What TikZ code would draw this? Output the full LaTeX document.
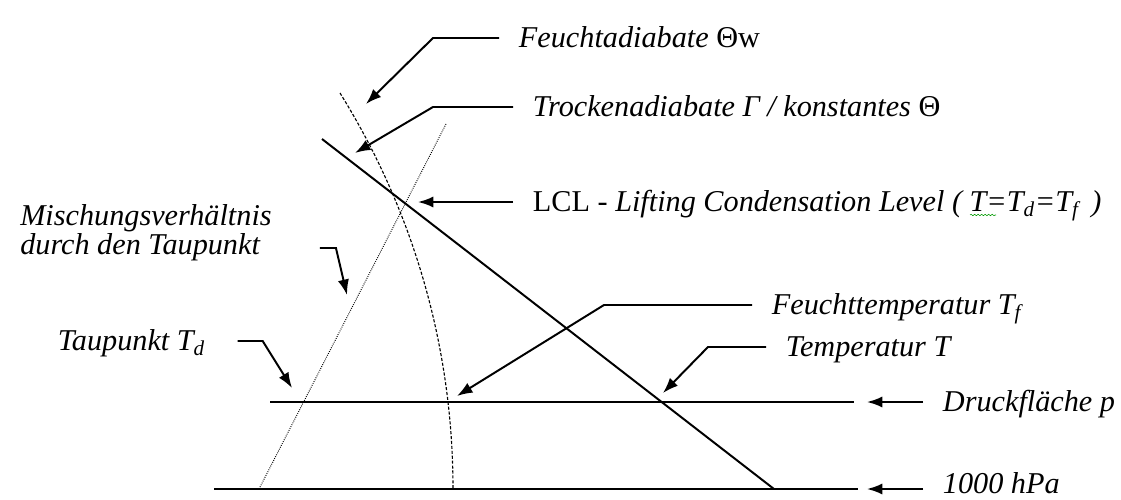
\documentclass[tikz,border=0pt]{standalone}
\usepackage{fontspec}
\setmainfont{Liberation Serif}
\usetikzlibrary{arrows.meta,decorations.pathmorphing}

\begin{document}
\begin{tikzpicture}[x=0.025cm, y=-0.025cm,
    lbl/.style={font=\fontsize{21.5}{20.6}\selectfont\itshape, text height=16pt, text depth=2pt, inner xsep=14pt, inner ysep=0pt},
    mlbl/.style={font=\fontsize{21.5}{20.6}\selectfont\itshape, align=left, inner sep=0pt},
    lead/.style={line width=1.4pt, -{Latex[length=11pt,width=8pt]}},
    ]

    \useasboundingbox (0,0) rectangle (1121,500);

    % pressure levels
    \draw[line width=2.1pt] (214,489) -- (858,489);
    \draw[line width=0.8pt] (270,402) -- (854,402);

    % dry adiabat
    \draw[line width=1.4pt] (322,139) -- (774,489);
    % moist adiabat
    \draw[line width=0.8pt, dash pattern=on 2.2pt off 1.3pt] (340,93) .. controls (414,212) and (453,348) .. (453,489);
    % mixing ratio
    \draw[line width=0.7pt, dash pattern=on 0.6pt off 0.9pt] (446,124) -- (259,489);

    % points the leaders point at
    \coordinate (fa-tip) at (366,104);
    \coordinate (ta-tip) at (355,153);
    \coordinate (lcl-tip) at (418,202);
    \coordinate (mv-tip) at (347,295);
    \coordinate (td-tip) at (292,388);
    \coordinate (ft-tip) at (457,396);
    \coordinate (tt-tip) at (663,393);
    \coordinate (dp-tip) at (867,402);
    \coordinate (hp-tip) at (867,489);

    % labels right
    \node[lbl, anchor=west] (fa) at (499,38) {Feuchtadiabate \textup{Θw}};
    \draw[lead] (fa.west) -- ++(-66,0) -- (fa-tip);

    \node[lbl, anchor=west] (ta) at (513,107) {Trockenadiabate Γ / konstantes \textup{Θ}};
    \draw[lead] (ta.west) -- ++(-80,0) -- (ta-tip);

    \node[lbl, anchor=west] (lcl) at (513,202) {\upshape LCL - \itshape Lifting Condensation Level ( T=T\textsubscript{d}=T\textsubscript{f}\, )};
    \draw[lead] (lcl.west) -- (lcl-tip);
    \draw[green!60!black, line width=0.4pt, decorate, decoration={snake, amplitude=0.5pt, segment length=2.5pt}] (970,215) -- (996,215);

    \node[lbl, anchor=west] (ft) at (752,305) {Feuchttemperatur T\textsubscript{f}};
    \draw[lead] (ft.west) -- ++(-148,0) -- (ft-tip);

    \node[lbl, anchor=west] (tt) at (766,347) {Temperatur T};
    \draw[lead] (tt.west) -- ++(-58,0) -- (tt-tip);

    \node[lbl, anchor=west] (dp) at (923,402) {Druckfläche p};
    \draw[lead] (dp.west) -- (dp-tip);

    \node[lbl, anchor=west] (hp) at (923,484) {1000 hPa};
    \draw[lead] (hp.west |- hp-tip) -- (hp-tip);

    % labels left
    \node[mlbl, anchor=north west] (mv) at (20,204) {Mischungsverhältnis\\durch den Taupunkt};
    \draw[lead] ([shift={(48,44)}]mv.north east) -- ++(16,0) -- (mv-tip);

    \node[lbl, anchor=east] (td) at (225,341) {Taupunkt T\textsubscript{d}};
    \draw[lead] ([xshift=9pt]td.east) -- ++(25,0) -- (td-tip);

\end{tikzpicture}
\end{document}
